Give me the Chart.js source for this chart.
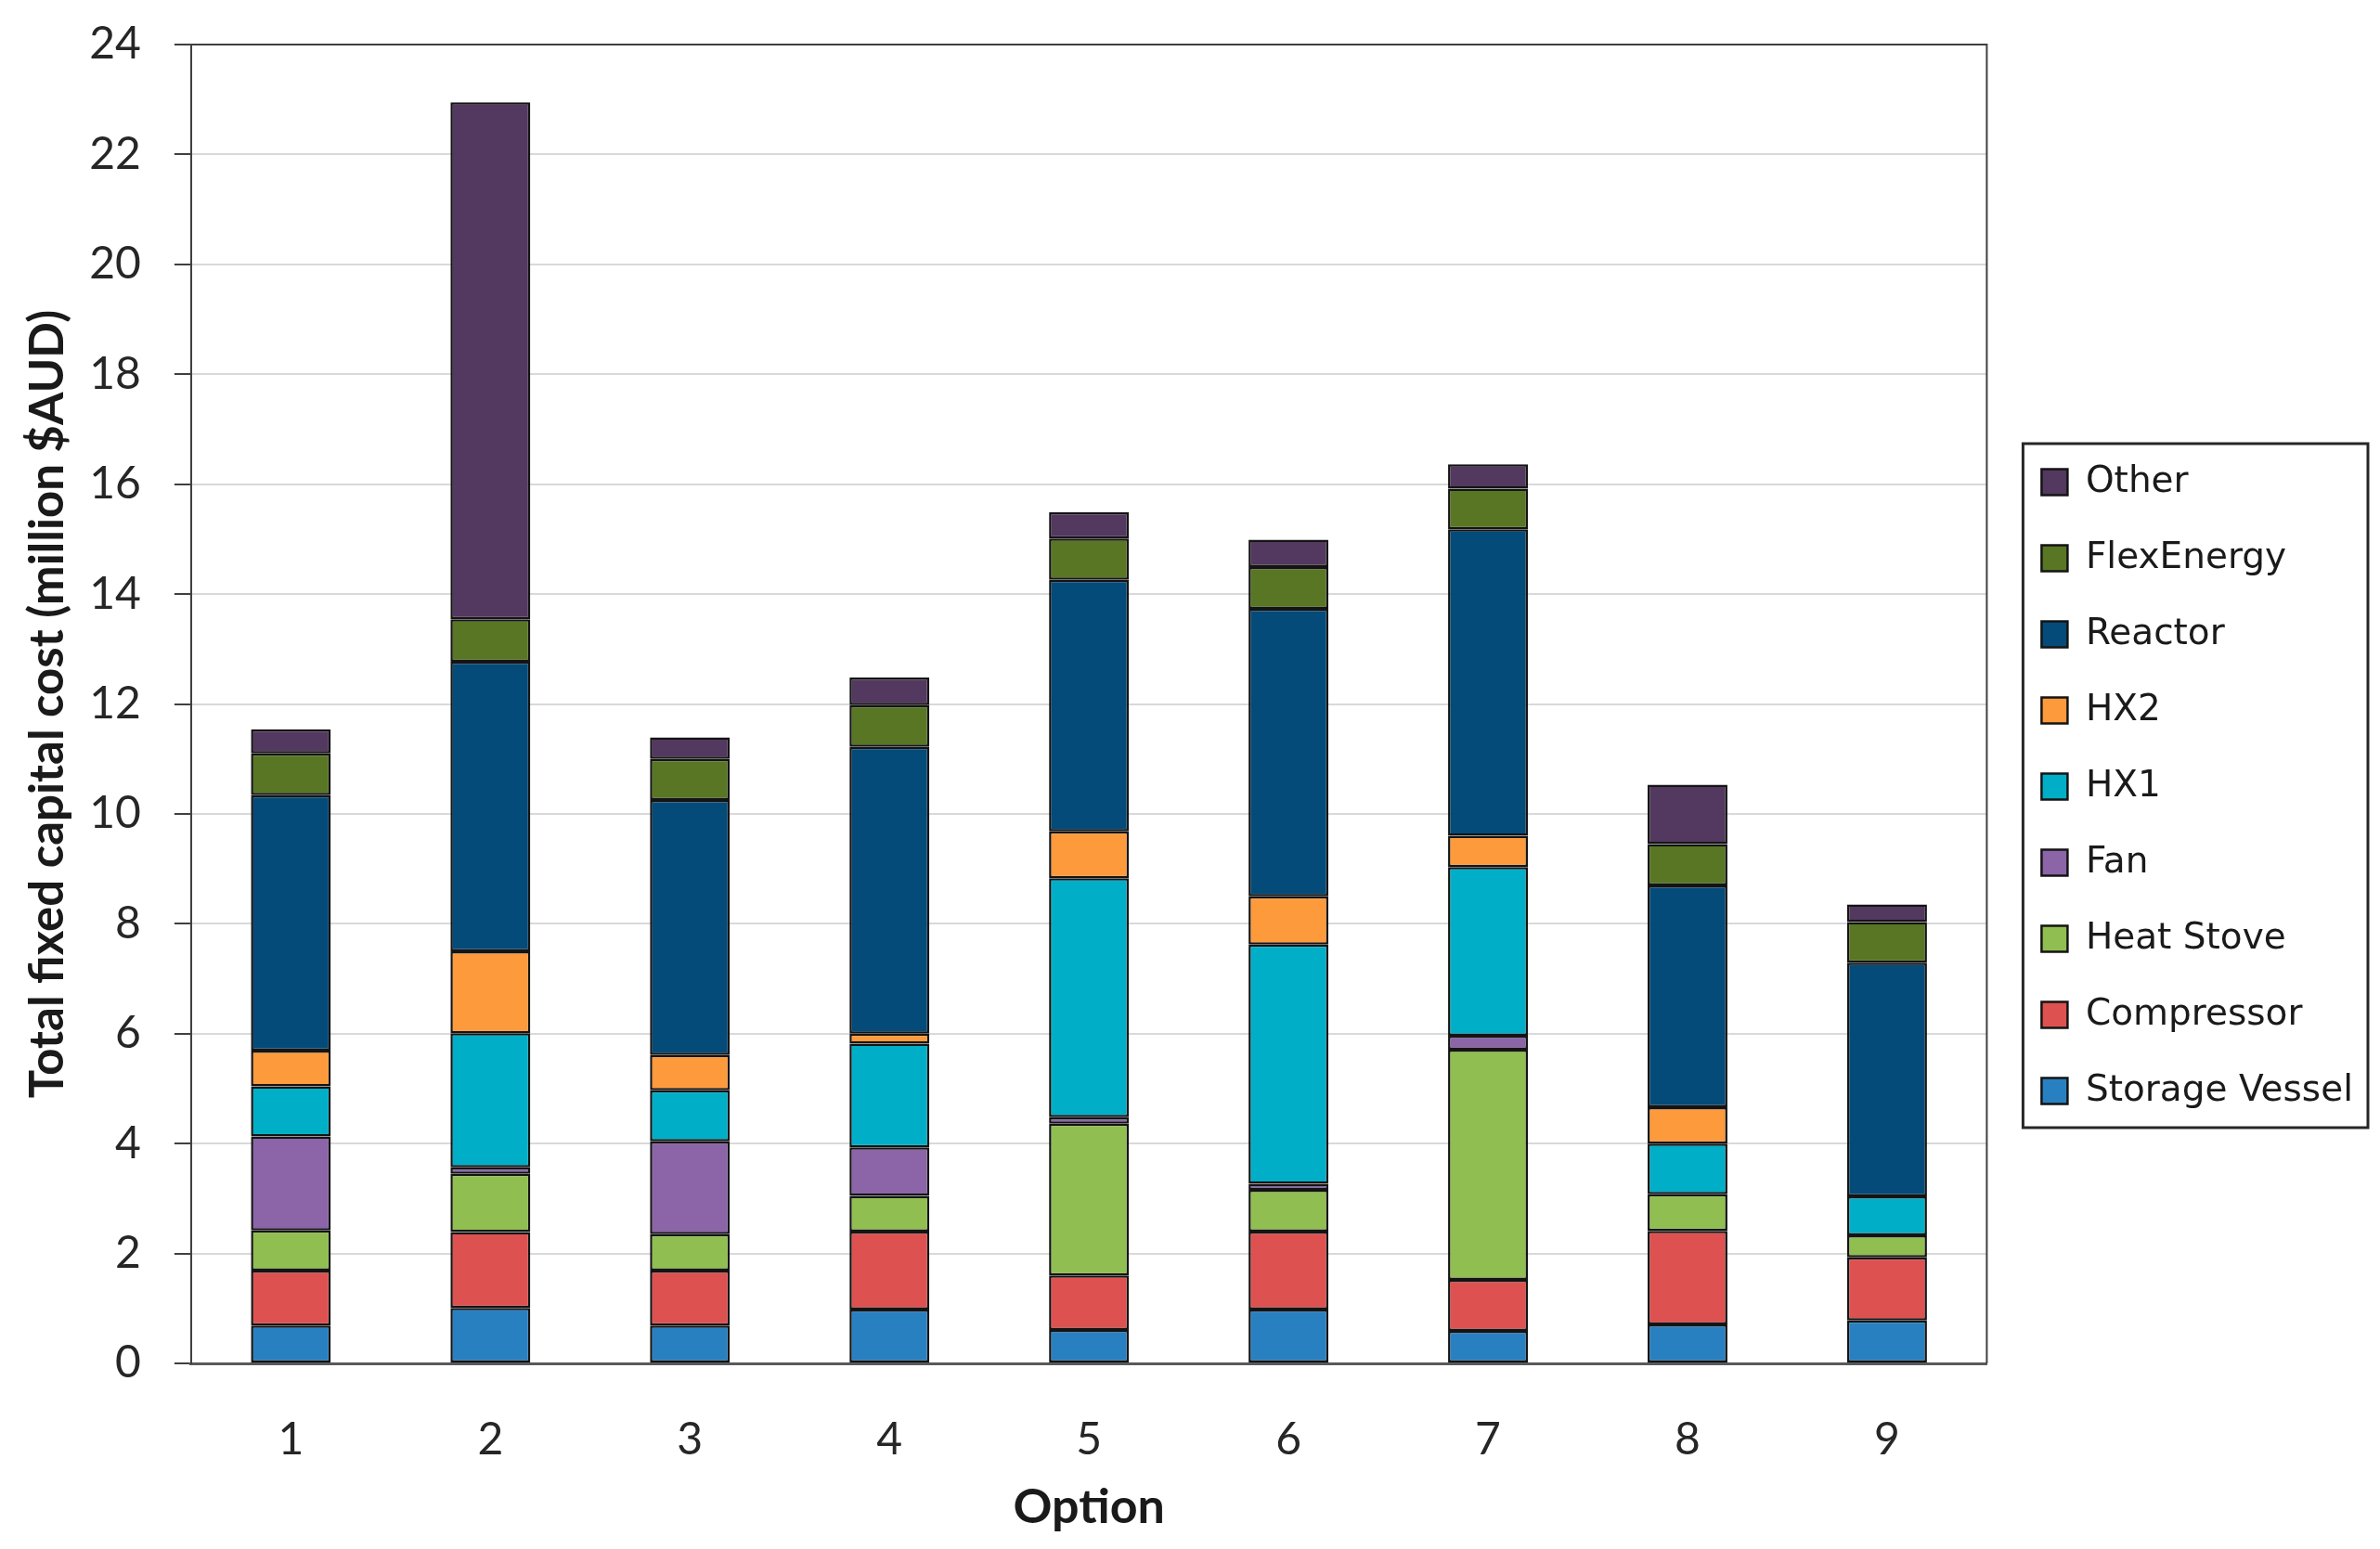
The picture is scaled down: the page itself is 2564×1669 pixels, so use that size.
<!DOCTYPE html>
<html>
<head>
<meta charset="utf-8">
<title>Total fixed capital cost by option</title>
<script src="https://cdn.jsdelivr.net/npm/chart.js@4.4.1/dist/chart.umd.min.js"></script>
<style>
  html, body { margin: 0; padding: 0; background: #ffffff; }
  #wrap { width: 2564px; height: 1669px; }
</style>
</head>
<body>
<div id="wrap"><canvas id="costChart" width="2564" height="1669"></canvas></div>
<script>
// options on the x axis
const options = ["1", "2", "3", "4", "5", "6", "7", "8", "9"];

// cost of each component per option, million $AUD
const storageVessel = [0.69, 1.01, 0.69, 0.98, 0.61, 0.98, 0.59, 0.71, 0.78];
const compressor    = [1.00, 1.38, 1.00, 1.42, 0.99, 1.42, 0.93, 1.70, 1.15];
const heatStove     = [0.73, 1.06, 0.66, 0.65, 2.76, 0.76, 4.19, 0.67, 0.40];
const fan           = [1.71, 0.12, 1.69, 0.88, 0.12, 0.11, 0.25, 0.00, 0.00];
const hx1           = [0.91, 2.44, 0.93, 1.89, 4.35, 4.35, 3.07, 0.92, 0.71];
const hx2           = [0.65, 1.49, 0.64, 0.18, 0.85, 0.88, 0.57, 0.66, 0.00];
const reactor       = [4.65, 5.27, 4.64, 5.22, 4.58, 5.23, 5.58, 4.04, 4.25];
const flexEnergy    = [0.76, 0.77, 0.75, 0.76, 0.75, 0.76, 0.74, 0.75, 0.74];
const other         = [0.44, 9.41, 0.39, 0.50, 0.48, 0.50, 0.44, 1.08, 0.32];

// y axis ticks
const yMin = 0;
const yMax = 24;
const yStep = 2;

function series(label, data, color) {
    return {
        label: label,
        data: data,
        backgroundColor: color,
        borderColor: "#141414",
        borderWidth: 2.5,
        borderSkipped: false,
        barPercentage: 0.4,
        categoryPercentage: 1.0
    };
}

// box around the legend, like the original figure
const legendFrame = {
    id: "legendFrame",
    afterDraw(chart) {
        const boxes = chart.legend && chart.legend.legendHitBoxes;
        if (!boxes || !boxes.length) return;
        let l = Infinity, t = Infinity, r = -Infinity, b = -Infinity;
        boxes.forEach(h => {
            l = Math.min(l, h.left);
            t = Math.min(t, h.top);
            r = Math.max(r, h.left + h.width);
            b = Math.max(b, h.top + h.height);
        });
        const ctx = chart.ctx;
        ctx.save();
        ctx.strokeStyle = "#262626";
        ctx.lineWidth = 3;
        ctx.strokeRect(l - 20, t - 22, (r - l) + 36, (b - t) + 42);
        ctx.restore();
    }
};

// plot area outline (top and right edges)
const plotFrame = {
    id: "plotFrame",
    afterDatasetsDraw(chart) {
        const a = chart.chartArea;
        const ctx = chart.ctx;
        ctx.save();
        ctx.strokeStyle = "#404040";
        ctx.lineWidth = 2;
        ctx.beginPath();
        ctx.moveTo(a.left, a.top);
        ctx.lineTo(a.right, a.top);
        ctx.lineTo(a.right, a.bottom);
        ctx.stroke();
        ctx.restore();
    }
};

new Chart(document.getElementById("costChart"), {
    type: "bar",
    data: {
        labels: options,
        datasets: [
            series("Storage Vessel", storageVessel, "#2980C1"),
            series("Compressor", compressor, "#DE5151"),
            series("Heat Stove", heatStove, "#90BE50"),
            series("Fan", fan, "#8B65A7"),
            series("HX1", hx1, "#00AFC7"),
            series("HX2", hx2, "#FD9A3C"),
            series("Reactor", reactor, "#054B79"),
            series("FlexEnergy", flexEnergy, "#587624"),
            series("Other", other, "#53385F")
        ]
    },
    options: {
        responsive: false,
        devicePixelRatio: 1,
        animation: false,
        layout: { padding: { top: 40, bottom: 14, left: 21, right: 19 } },
        plugins: {
            tooltip: { enabled: false },
            legend: {
                position: "right",
                reverse: true,
                labels: {
                    font: { family: "DejaVu Sans", size: 39 },
                    color: "#1a1a1a",
                    boxWidth: 28,
                    boxHeight: 28,
                    padding: 43
                }
            }
        },
        scales: {
            x: {
                stacked: true,
                grid: { display: false },
                border: { display: true, color: "#595959", width: 3 },
                ticks: {
                    font: { family: "Lato", size: 48 },
                    color: "#262626",
                    padding: 46
                },
                title: {
                    display: true,
                    text: "Option",
                    font: { family: "Lato", size: 52, weight: "bold" },
                    color: "#1a1a1a",
                    padding: { top: -34, bottom: 0 }
                }
            },
            y: {
                stacked: true,
                min: yMin,
                max: yMax,
                grid: {
                    color: "#D9D9D9",
                    lineWidth: 2,
                    tickColor: "#404040",
                    tickWidth: 2,
                    tickLength: 18
                },
                border: { display: true, color: "#404040", width: 2 },
                ticks: {
                    stepSize: yStep,
                    // small lineHeight keeps the top label from pushing the plot down
                    font: { family: "Lato", size: 48, lineHeight: 0.5 },
                    color: "#262626",
                    padding: 36
                },
                title: {
                    display: true,
                    text: "Total fixed capital cost (million $AUD)",
                    font: { family: "Lato", size: 51, weight: "bold" },
                    color: "#1a1a1a",
                    padding: { top: 0, bottom: -22 }
                }
            },
            // blank strip between the plot and the legend
            gap: {
                type: "linear",
                position: "right",
                grid: { display: false },
                border: { display: false },
                ticks: { display: false },
                afterFit(scale) { scale.width = 16; }
            }
        }
    },
    plugins: [legendFrame, plotFrame]
});
</script>
</body>
</html>
